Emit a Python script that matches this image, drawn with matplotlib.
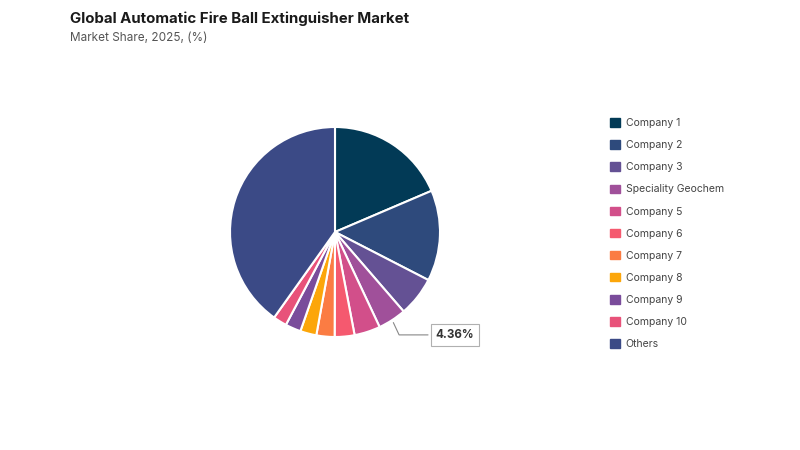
import numpy as np
import matplotlib.pyplot as plt
from matplotlib.patches import Patch

companies = ["Company 1", "Company 2", "Company 3", "Speciality Geochem", "Company 5",
             "Company 6", "Company 7", "Company 8", "Company 9", "Company 10", "Others"]
shares = [18.6, 14.0, 6.1, 4.36, 4.0, 3.05, 2.8, 2.5, 2.4, 2.1, 40.2]
colors = ["#023a56", "#2e4a7c", "#645194", "#a0509a", "#d24f8a", "#f5596f",
          "#fb7c43", "#fca60a", "#7a4c9b", "#e8527a", "#3b4a86"]
label_idx = 3

plt.rcParams['font.family'] = ['Inter', 'DejaVu Sans']

fig = plt.figure(figsize=(8, 4.5), dpi=100)
fig.patch.set_facecolor("white")

cx, cy, r = 335, 232, 105
ax = fig.add_axes([(cx - r) / 800, (450 - cy - r) / 450, 2 * r / 800, 2 * r / 450])
wedges, _ = ax.pie(shares, colors=colors, startangle=90, counterclock=False,
                   wedgeprops=dict(edgecolor="white", linewidth=1.5), radius=1.0)
ax.set_xlim(-1, 1)
ax.set_ylim(-1, 1)
ax.set_aspect("equal")

# label for the Speciality Geochem slice
w = wedges[label_idx]
mid = np.deg2rad((w.theta1 + w.theta2) / 2)
px, py = np.cos(mid), np.sin(mid)
ax.annotate(f"{shares[label_idx]:.2f}%", xy=(px, py), xytext=(0.96, -0.98),
            fontsize=8.3, fontweight="bold", color="#333333", va="center", ha="left",
            bbox=dict(boxstyle="square,pad=0.4", fc="white", ec="#b0b0b0", lw=0.8),
            arrowprops=dict(arrowstyle="-", color="#888888", lw=0.8,
                            connectionstyle="angle,angleA=0,angleB=-65,rad=0"),
            annotation_clip=False)

fig.text(70 / 800, 1 - 19 / 450, "Global Automatic Fire Ball Extinguisher Market",
         fontsize=10.8, fontweight="bold", color="#1a1a1a", va="center")
fig.text(70 / 800, 1 - 38 / 450, "Market Share, 2025, (%)",
         fontsize=8.5, color="#555555", va="center")

handles = [Patch(facecolor=c, edgecolor=c) for c in colors]
fig.legend(handles, companies, loc="upper left", bbox_to_anchor=(606 / 800, 1 - 114 / 450),
           frameon=False, fontsize=7.5, labelcolor="#444444", handlelength=0.9,
           handleheight=0.9, handletextpad=0.6, labelspacing=1.16, borderaxespad=0)

fig.savefig("out.png", dpi=100)
